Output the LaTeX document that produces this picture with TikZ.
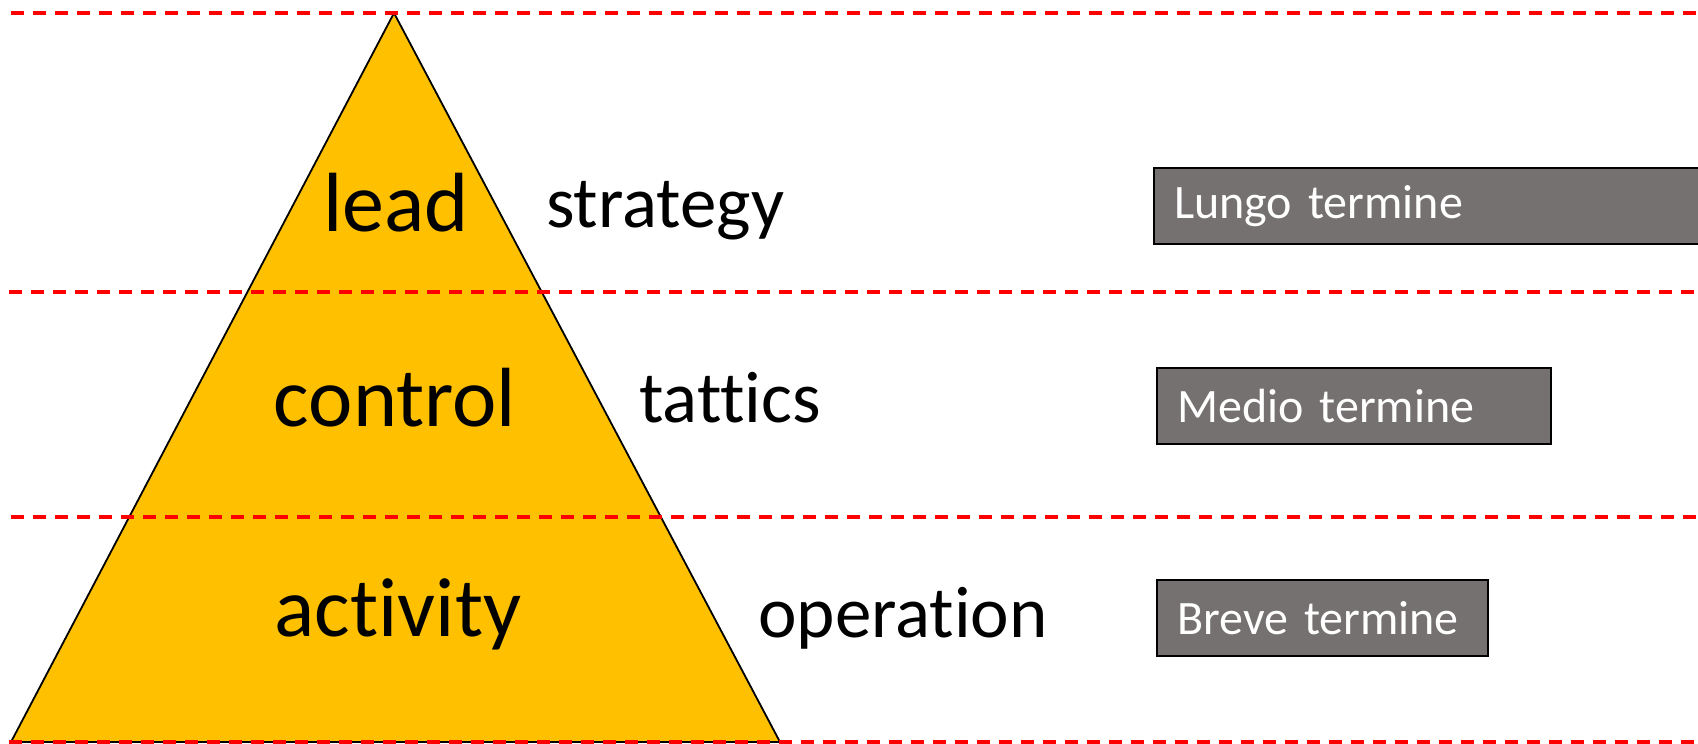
\documentclass[tikz,border=0pt]{standalone}
\usepackage{fontspec}
\setmainfont{Carlito}[RawFeature=-liga]
\definecolor{pyr}{HTML}{FFC000}
\definecolor{boxgray}{HTML}{767171}
\tikzset{
  level/.style={anchor=base, inner sep=0pt, font=\fontsize{84}{100}\selectfont},
  side/.style={anchor=base west, inner sep=0pt, font=\fontsize{73}{86}\selectfont},
  termbox/.style={draw=black, line width=2.2pt, fill=boxgray, text=white, anchor=north west, align=left,
    inner xsep=20pt, inner ysep=0pt, font=\fontsize{48}{56}\selectfont},
  divider/.style={draw=red, line width=3.2pt, dash pattern=on 13pt off 9pt},
}
\begin{document}
\begin{tikzpicture}[x=1pt, y=-1pt]
\useasboundingbox (0,0) rectangle (1698,744);
% pyramid
\coordinate (apex) at (394,13);
\coordinate (bl) at (11,742);
\coordinate (br) at (780,742);
\draw[fill=pyr, line width=1.8pt, line join=miter] (apex) -- (br) -- (bl) -- cycle;
% dividers
\coordinate (d1a) at (11,13);  \coordinate (d1b) at (1698,13);
\coordinate (d2a) at (9,292);  \coordinate (d2b) at (1698,292);
\coordinate (d3a) at (11,517); \coordinate (d3b) at (1698,517);
\coordinate (d4a) at (9,742);  \coordinate (d4b) at (1698,742);
\draw[divider] (d1a) -- (d1b);
\draw[divider] (d2a) -- (d2b);
\draw[divider] (d3a) -- (d3b);
\draw[divider] (d4a) -- (d4b);
% level labels
\node[level] (lead) at (396,231) {lead};
\node[level] (control) at (395,426) {control};
\node[level] (activity) at (398,636) {activity};
% side labels
\node[side] (strategy) at (546,227) {strategy};
\node[side] (tattics) at (639,422) {tattics};
\node[side] (operation) at (758,637) {operation};
% term boxes
\node[termbox, minimum width=570pt, minimum height=76pt, text width=530pt] (lungo) at (1153,167) {Lungo termine};
\node[termbox, minimum width=394pt, minimum height=76pt, text width=354pt] (medio) at (1156,367) {Medio termine};
\node[termbox, minimum width=331pt, minimum height=76pt, text width=291pt] (breve) at (1156,579) {Breve termine};
\end{tikzpicture}
\end{document}
